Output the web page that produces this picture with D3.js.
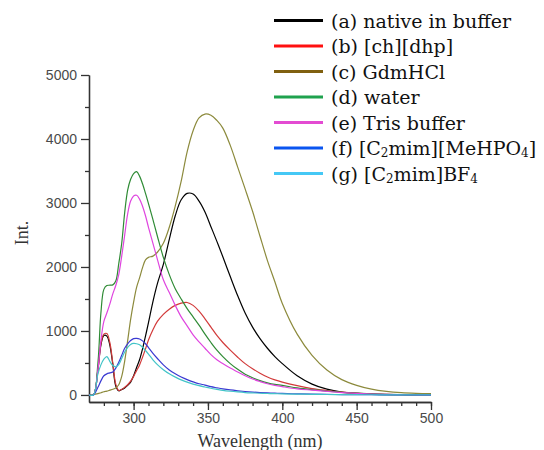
<!DOCTYPE html>
<html>
<head>
<meta charset="utf-8">
<script src="https://cdn.jsdelivr.net/npm/d3@7"></script>
<style>
  body { margin: 0; background: #fff; }
  svg { display: block; }
</style>
</head>
<body>
<div id="chart"></div>
<script>
// Data (intensity vs wavelength)
const wavelength = [270, 273, 276, 278, 280, 282, 284, 286, 288, 290, 292, 294, 296, 298, 300, 302, 304, 306, 308, 310,
  313, 316, 320, 324, 328, 332, 336, 340, 344, 348, 352, 356, 360, 365, 370, 375, 380, 385, 390, 395, 400,
  410, 420, 430, 440, 450, 460, 470, 480, 490, 500];

const nativeBuffer = [0, 0, 400, 780, 930, 920, 780, 480, 140, 65, 85, 110, 150, 200, 300, 430, 550, 720, 920, 1130,
  1460, 1740, 2040, 2430, 2800, 3050, 3150, 3140, 3030, 2860, 2630, 2400, 2160, 1850, 1550, 1280, 1060, 880, 730, 600, 490,
  300, 170, 90, 45, 25, 12, 6, 3, 1, 0];
const chDhp = [0, 0, 380, 800, 950, 960, 820, 500, 170, 70, 85, 120, 160, 215, 290, 380, 470, 590, 720, 860,
  1020, 1150, 1260, 1340, 1400, 1435, 1445, 1400, 1310, 1190, 1060, 930, 820, 700, 590, 490, 410, 340, 280, 235, 200,
  145, 100, 70, 45, 28, 16, 8, 4, 2, 0];
const gdmHCl = [0, 5, 20, 35, 50, 60, 75, 90, 110, 160, 290, 530, 850, 1180, 1450, 1680, 1830, 1990, 2110, 2150,
  2170, 2230, 2370, 2620, 2950, 3340, 3800, 4130, 4330, 4390, 4370, 4290, 4170, 3900, 3560, 3220, 2870, 2480, 2100, 1770, 1430,
  950, 620, 390, 240, 150, 90, 55, 35, 25, 20];
const water = [0, 0, 500, 1280, 1650, 1710, 1715, 1720, 1780, 2050, 2370, 2850, 3200, 3370, 3460, 3490, 3420, 3300, 3150, 2990,
  2740, 2480, 2150, 1880, 1660, 1500, 1350, 1220, 1090, 950, 820, 700, 600, 490, 400, 325, 270, 225, 190, 165, 150,
  110, 82, 60, 40, 28, 18, 10, 5, 2, 0];
const trisBuffer = [0, 0, 400, 850, 1150, 1280, 1420, 1580, 1710, 1880, 2170, 2500, 2830, 3030, 3110, 3120, 3060, 2950, 2800, 2620,
  2370, 2120, 1800, 1600, 1400, 1220, 1080, 940, 830, 730, 630, 550, 490, 420, 360, 300, 250, 210, 175, 150, 130,
  95, 75, 55, 38, 25, 15, 8, 4, 2, 0];
const c2mimMeHPO4 = [0, 0, 120, 220, 300, 330, 345, 360, 420, 510, 620, 730, 800, 850, 880, 885, 875, 845, 800, 740,
  650, 570, 470, 390, 330, 280, 240, 205, 175, 155, 130, 112, 95, 78, 65, 54, 45, 38, 32, 28, 24,
  17, 12, 9, 6, 4, 3, 2, 1, 1, 0];
const c2mimBF4 = [0, 0, 330, 470, 560, 600, 525, 460, 440, 475, 570, 670, 745, 790, 805, 800, 785, 745, 695, 640,
  550, 475, 395, 330, 280, 235, 200, 170, 145, 125, 105, 88, 72, 58, 47, 38, 32, 27, 23, 20, 17,
  13, 10, 7, 5, 4, 3, 2, 1, 1, 0];

const seriesValues = [nativeBuffer, chDhp, gdmHCl, water, trisBuffer, c2mimMeHPO4, c2mimBF4];
const lineColors = ["#000000", "#d23a3a", "#8c8a3c", "#2f8b35", "#df45df", "#3a3ad2", "#42c4c8"];
const legendColors = ["#000000", "#ff1010", "#806010", "#1fa24e", "#e34bd2", "#0a55f0", "#45c8f5"];
// legend labels: [main text, subscript, main text, subscript, ...]
const legendLabels = [
  ["(a) native in buffer"],
  ["(b) [ch][dhp]"],
  ["(c) GdmHCl"],
  ["(d) water"],
  ["(e) Tris buffer"],
  ["(f) [C", "2", "mim][MeHPO", "4", "]"],
  ["(g) [C", "2", "mim]BF", "4"]
];
const xMajorTicks = [300, 350, 400, 450, 500];
const xMinorTicks = d3.range(280, 501, 10);
const yMajorTicks = [0, 1000, 2000, 3000, 4000, 5000];
const yMinorTicks = [500, 1500, 2500, 3500, 4500];

const width = 544;
const height = 450;

const svg = d3.select("#chart").append("svg")
  .attr("width", width)
  .attr("height", height)
  .style("background", "#fff");

const x = d3.scaleLinear().domain([270, 500]).range([89, 431]);
const y = d3.scaleLinear().domain([-110, 5000]).range([402, 75]);

// Axes (minor ticks first, major on top)
const tickFont = "'Liberation Sans', Arial, sans-serif";

function styleAxis(g) {
  g.selectAll("path, line").attr("stroke", "#333").attr("stroke-width", 1.3);
  g.selectAll("text").attr("fill", "#4a4a4a").style("font-family", tickFont).style("font-size", "14px");
}

svg.append("g")
  .attr("transform", "translate(0,402)")
  .call(d3.axisBottom(x).tickValues(xMinorTicks).tickSize(4).tickSizeOuter(0).tickFormat(""))
  .call(styleAxis);
svg.append("g")
  .attr("transform", "translate(0,402)")
  .call(d3.axisBottom(x).tickValues(xMajorTicks).tickSize(8).tickSizeOuter(0).tickPadding(3).tickFormat(d3.format("d")))
  .call(styleAxis);

svg.append("g")
  .attr("transform", "translate(89,0)")
  .call(d3.axisLeft(y).tickValues(yMinorTicks).tickSize(4).tickSizeOuter(0).tickFormat(""))
  .call(styleAxis);
svg.append("g")
  .attr("transform", "translate(89,0)")
  .call(d3.axisLeft(y).tickValues(yMajorTicks).tickSize(8).tickSizeOuter(0).tickPadding(4).tickFormat(d3.format("d")))
  .call(styleAxis);

// Axis titles
svg.append("text")
  .attr("x", 260)
  .attr("y", 447)
  .attr("text-anchor", "middle")
  .style("font-family", "'Liberation Serif', 'Times New Roman', serif")
  .style("font-size", "18px")
  .attr("fill", "#333")
  .text("Wavelength (nm)");

svg.append("text")
  .attr("transform", "translate(28,233) rotate(-90)")
  .attr("text-anchor", "middle")
  .style("font-family", "'Liberation Serif', 'Times New Roman', serif")
  .style("font-size", "18px")
  .attr("fill", "#333")
  .text("Int.");

// Curves
const line = d3.line()
  .x((d, i) => x(wavelength[i]))
  .y(d => y(d))
  .curve(d3.curveCatmullRom.alpha(0.5));

svg.append("g")
  .selectAll("path")
  .data(seriesValues)
  .join("path")
  .attr("d", d => line(d))
  .attr("fill", "none")
  .attr("stroke", (d, i) => lineColors[i])
  .attr("stroke-width", 1.2);

// Legend
const legend = svg.append("g").attr("class", "legend");
const rowY = i => 20.5 + i * 25.5;

legend.selectAll("line")
  .data(legendLabels)
  .join("line")
  .attr("x1", 274)
  .attr("x2", 323)
  .attr("y1", (d, i) => rowY(i))
  .attr("y2", (d, i) => rowY(i))
  .attr("stroke", (d, i) => legendColors[i])
  .attr("stroke-width", 3.2);

legend.selectAll("text")
  .data(legendLabels)
  .join("text")
  .attr("x", 331)
  .attr("y", (d, i) => rowY(i) + 7)
  .style("font-family", "'DejaVu Serif', serif")
  .style("font-size", "19px")
  .attr("fill", "#111")
  .each(function(parts) {
    const t = d3.select(this);
    parts.forEach((p, k) => {
      const sub = k % 2 === 1;
      t.append("tspan")
        .attr("dy", sub ? 2 : (k > 0 ? -2 : 0))
        .style("font-size", sub ? "12px" : null)
        .text(p);
    });
  });
</script>
</body>
</html>
